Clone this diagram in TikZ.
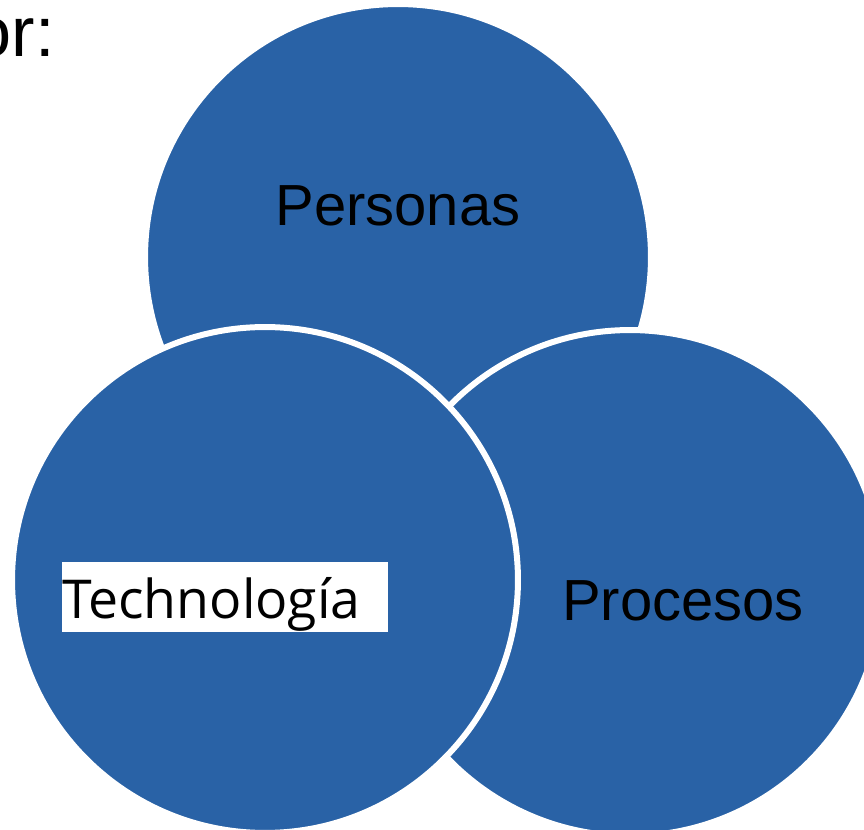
\documentclass[tikz,border=0pt]{standalone}
\usepackage{fontspec}
\setmainfont{Liberation Sans}
\newfontfamily\techfont{Open Sans}
\definecolor{venn}{HTML}{2962A6}

\begin{document}
\begin{tikzpicture}[x=0.02cm, y=-0.02cm,
        bubble/.style={circle, fill=venn, draw=white, line width=0.12cm,
            minimum size=10.12cm, inner sep=0pt},
        tag/.style={font=\fontsize{33}{36}\selectfont, text=black}]
        \useasboundingbox (0,0) rectangle (864,830);
        \clip (0,0) rectangle (864,830);

        % Heading, partly off the page
        \node[font=\fontsize{40}{44}\selectfont, anchor=base east] (heading) at (61,57) {por:};

        % The three circles, back to front
        \node[bubble] (top) at (398,257) {};
        \node[bubble] (right) at (630,583) {};
        \node[bubble] (left) at (265,580) {};

        % Labels
        \node[tag, anchor=base] (personas) at (398,226) {Personas};
        \node[tag, anchor=base] (procesos) at (683,620) {Procesos};

        % Boxed label on the left circle
        \fill[white] (62,562) rectangle (388,632);
        \node[font=\techfont\fontsize{30.5}{34}\selectfont, anchor=base west, inner sep=0pt] (tech) at (62,618) {Technología};
    \end{tikzpicture}
\end{document}
